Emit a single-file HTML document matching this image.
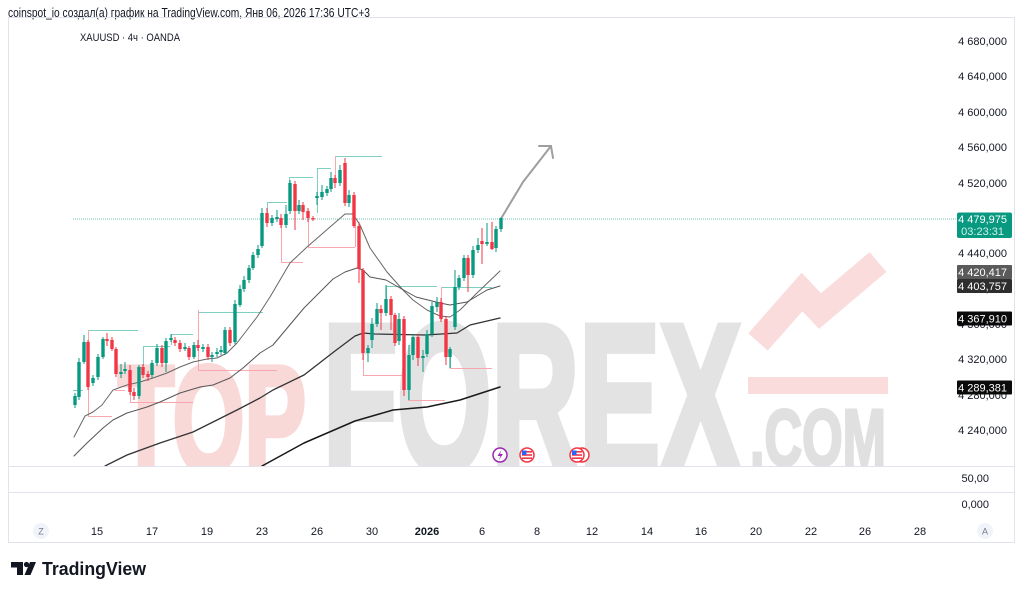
<!DOCTYPE html>
<html>
<head>
<meta charset="utf-8">
<style>
  html,body{margin:0;padding:0;background:#fff;}
  svg{display:block;}
  text{font-family:"Liberation Sans","DejaVu Sans",sans-serif;}
</style>
</head>
<body>
<svg width="1024" height="594" viewBox="0 0 1024 594" xmlns="http://www.w3.org/2000/svg">
  <defs>
    <clipPath id="pane"><rect x="9" y="18" width="946" height="448"/></clipPath>
  </defs>
  <rect x="0" y="0" width="1024" height="594" fill="#ffffff"/>

  <!-- header -->
  <text x="8" y="17" font-size="12.5" fill="#131722" textLength="362" lengthAdjust="spacingAndGlyphs">coinspot_io создал(а) график на TradingView.com, Янв 06, 2026 17:36 UTC+3</text>

  <!-- frame -->
  <rect x="8.5" y="17.5" width="1006" height="525" fill="none" stroke="#e0e3eb" stroke-width="1"/>
  <line x1="8" y1="466.5" x2="1015" y2="466.5" stroke="#e0e3eb" stroke-width="1"/>
  <line x1="8" y1="492.5" x2="1015" y2="492.5" stroke="#e0e3eb" stroke-width="1"/>

  <!-- watermark -->
  <g clip-path="url(#pane)">
    <text x="118" y="472" font-size="152" font-weight="bold" fill="#f9d8d8" stroke="#f9d8d8" stroke-width="6" stroke-linejoin="miter" textLength="188" lengthAdjust="spacingAndGlyphs" style='font-family:"Liberation Sans Narrow","Liberation Sans",sans-serif'>TOP</text>
    <text x="323" y="471" font-size="210" font-weight="bold" fill="#e3e3e3" stroke="#e3e3e3" stroke-width="8" stroke-linejoin="miter" textLength="418" lengthAdjust="spacingAndGlyphs" style='font-family:"Liberation Sans Narrow","Liberation Sans",sans-serif'>FOREX</text>
    <text x="750" y="465" font-size="80" font-weight="bold" fill="#e0e0e0" stroke="#e0e0e0" stroke-width="3" textLength="136" lengthAdjust="spacingAndGlyphs" style='font-family:"Liberation Sans Narrow","Liberation Sans",sans-serif'>.COM</text>
    <polyline points="758,342 802,292 820,311 878,262" fill="none" stroke="#fadcdc" stroke-width="26" stroke-linejoin="miter"/>
    <rect x="748" y="377" width="140" height="17" fill="#fadcdc"/>
  </g>

  <!-- title -->
  <text x="80" y="41" font-size="11" fill="#131722" textLength="100" lengthAdjust="spacingAndGlyphs">XAUUSD · 4ч · OANDA</text>

  <!-- current price dotted line -->
  <line x1="73" y1="219" x2="956" y2="219" stroke="#089981" stroke-opacity="0.55" stroke-width="1" stroke-dasharray="1 1"/>

  <!-- pivot lines green -->
  <g stroke="#7fcfc3" stroke-width="1" fill="none">
    <line x1="88" y1="330.5" x2="138" y2="330.5"/>
    <line x1="73" y1="390.5" x2="83" y2="390.5"/>
    <line x1="143" y1="346.5" x2="170" y2="346.5"/>
    <line x1="143.5" y1="346" x2="143.5" y2="366"/>
    <line x1="171" y1="334.5" x2="193" y2="334.5"/>
    <line x1="171.5" y1="334" x2="171.5" y2="345"/>
    <line x1="198" y1="312.5" x2="263" y2="312.5"/>
    <line x1="267" y1="202.5" x2="287" y2="202.5"/>
    <line x1="267.5" y1="202" x2="267.5" y2="213"/>
    <line x1="289" y1="177.5" x2="313" y2="177.5"/>
    <line x1="289.5" y1="177" x2="289.5" y2="184"/>
    <line x1="317" y1="168.5" x2="331" y2="168.5"/>
    <line x1="317.5" y1="168" x2="317.5" y2="213"/>
    <line x1="335" y1="156.5" x2="382" y2="156.5"/>
    <line x1="386" y1="286.5" x2="437" y2="286.5"/>
    <line x1="386.5" y1="286" x2="386.5" y2="300"/>
    <line x1="441" y1="287.5" x2="492" y2="287.5"/>
    <line x1="408.5" y1="390" x2="408.5" y2="400"/>
    <line x1="450.5" y1="349" x2="450.5" y2="368"/>
  </g>
  <!-- pivot lines red -->
  <g stroke="#f7a7ad" stroke-width="1" fill="none">
    <line x1="88.5" y1="330" x2="88.5" y2="416"/>
    <line x1="88" y1="416.5" x2="112" y2="416.5"/>
    <line x1="115" y1="390.5" x2="125" y2="390.5"/>
    <line x1="130.5" y1="390" x2="130.5" y2="402"/>
    <line x1="130" y1="402.5" x2="193" y2="402.5"/>
    <line x1="198.5" y1="310" x2="198.5" y2="370"/>
    <line x1="198" y1="370.5" x2="277" y2="370.5"/>
    <line x1="281.5" y1="218" x2="281.5" y2="262"/>
    <line x1="281" y1="262.5" x2="303" y2="262.5"/>
    <line x1="335.5" y1="156" x2="335.5" y2="183"/>
    <line x1="308.5" y1="212" x2="308.5" y2="247"/>
    <line x1="308" y1="247.5" x2="355" y2="247.5"/>
    <line x1="355.5" y1="225" x2="355.5" y2="247"/>
    <line x1="363.5" y1="353" x2="363.5" y2="375"/>
    <line x1="363" y1="375.5" x2="403" y2="375.5"/>
    <line x1="408" y1="400.5" x2="445" y2="400.5"/>
    <line x1="441.5" y1="287" x2="441.5" y2="320"/>
    <line x1="450" y1="368.5" x2="492" y2="368.5"/>
  </g>

  <!-- moving averages -->
  <g clip-path="url(#pane)" fill="none" stroke-linejoin="round" stroke-linecap="round">
    <polyline stroke="#666" stroke-width="1" points="74,437 85,416 93,412 102,405 113,390 127,385 140,382 153,378 167,373 180,367 193,362 207,359 217,358 227,353 237,343 247,330 257,317 270,297 290,263 307,247 330,227 345,214 353,214 360,225 370,248 387,272 403,290 413,300 427,310 440,316 450,317 460,310 477,293 500,271"/>
    <polyline stroke="#555" stroke-width="1" points="74,456 87,443 103,428 113,420 127,413 147,407 160,402 180,393 200,387 213,385 230,378 243,368 260,353 273,345 304,308 333,279 345,272 357,268 363,270 370,277 386,280 400,288 416,297 440,303 450,305 467,302 487,290 500,286"/>
    <polyline stroke="#333" stroke-width="1.3" points="105,466 127,455 160,443 193,432 217,420 237,410 260,398 273,390 304,375 335,351 355,336 363,333 375,334 426,335 457,333 470,325 500,318"/>
    <polyline stroke="#1a1a1a" stroke-width="1.5" points="262,466 304,443 355,421 393,410 427,407 460,400 500,387"/>
  </g>

  <!-- green candles -->
  <g fill="#089981" stroke="none">
    <g stroke="#089981" stroke-width="1">
      <line x1="75" y1="393" x2="75" y2="408"/><line x1="79" y1="358" x2="79" y2="400"/><line x1="84" y1="335" x2="84" y2="364"/>
      <line x1="93" y1="375" x2="93" y2="386"/><line x1="98" y1="354" x2="98" y2="380"/><line x1="103" y1="337" x2="103" y2="359"/>
      <line x1="121" y1="364" x2="121" y2="378"/><line x1="125" y1="362" x2="125" y2="374"/><line x1="139" y1="365" x2="139" y2="399"/>
      <line x1="152" y1="360" x2="152" y2="378"/><line x1="157" y1="344" x2="157" y2="366"/><line x1="166" y1="338" x2="166" y2="372"/>
      <line x1="171" y1="334" x2="171" y2="342"/><line x1="185" y1="343" x2="185" y2="351"/><line x1="194" y1="342" x2="194" y2="359"/>
      <line x1="203" y1="344" x2="203" y2="352"/><line x1="212" y1="352" x2="212" y2="362"/><line x1="217" y1="348" x2="217" y2="357"/>
      <line x1="221" y1="346" x2="221" y2="355"/><line x1="225" y1="327" x2="225" y2="355"/><line x1="235" y1="300" x2="235" y2="344"/>
      <line x1="240" y1="285" x2="240" y2="307"/><line x1="244" y1="276" x2="244" y2="292"/><line x1="249" y1="265" x2="249" y2="283"/>
      <line x1="253" y1="252" x2="253" y2="270"/><line x1="258" y1="245" x2="258" y2="258"/><line x1="262" y1="208" x2="262" y2="248"/>
      <line x1="272" y1="215" x2="272" y2="226"/><line x1="277" y1="210" x2="277" y2="222"/><line x1="286" y1="205" x2="286" y2="228"/>
      <line x1="290" y1="180" x2="290" y2="214"/><line x1="299" y1="200" x2="299" y2="214"/><line x1="317" y1="192" x2="317" y2="205"/>
      <line x1="322" y1="185" x2="322" y2="200"/><line x1="327" y1="186" x2="327" y2="196"/><line x1="331" y1="172" x2="331" y2="192"/>
      <line x1="340" y1="165" x2="340" y2="186"/><line x1="349" y1="190" x2="349" y2="207"/><line x1="368" y1="345" x2="368" y2="362"/>
      <line x1="372" y1="318" x2="372" y2="348"/><line x1="377" y1="303" x2="377" y2="327"/><line x1="386" y1="285" x2="386" y2="316"/>
      <line x1="399" y1="313" x2="399" y2="345"/><line x1="409" y1="345" x2="409" y2="400"/><line x1="413" y1="334" x2="413" y2="360"/>
      <line x1="423" y1="350" x2="423" y2="372"/><line x1="427" y1="330" x2="427" y2="357"/><line x1="432" y1="302" x2="432" y2="337"/>
      <line x1="437" y1="297" x2="437" y2="312"/><line x1="450" y1="347" x2="450" y2="368"/><line x1="455" y1="270" x2="455" y2="330"/>
      <line x1="459" y1="275" x2="459" y2="290"/><line x1="464" y1="255" x2="464" y2="281"/><line x1="473" y1="246" x2="473" y2="278"/>
      <line x1="478" y1="238" x2="478" y2="253"/><line x1="487" y1="223" x2="487" y2="246"/><line x1="496" y1="226" x2="496" y2="252"/>
      <line x1="501" y1="217" x2="501" y2="232"/>
    </g>
    <rect x="73.3" y="396" width="3.4" height="9"/><rect x="77.3" y="362" width="3.4" height="35"/><rect x="82.3" y="342" width="3.4" height="20"/>
    <rect x="91.3" y="378" width="3.4" height="5"/><rect x="96.3" y="357" width="3.4" height="20"/><rect x="101.3" y="339" width="3.4" height="18"/>
    <rect x="119.3" y="372" width="3.4" height="2"/><rect x="123.3" y="369" width="3.4" height="2"/><rect x="137.3" y="367" width="3.4" height="29"/>
    <rect x="150.3" y="363" width="3.4" height="12"/><rect x="155.3" y="348" width="3.4" height="15"/><rect x="164.3" y="341" width="3.4" height="22"/>
    <rect x="169.3" y="338" width="3.4" height="2"/><rect x="183.3" y="347" width="3.4" height="2"/><rect x="192.3" y="345" width="3.4" height="12"/>
    <rect x="201.3" y="347" width="3.4" height="2"/><rect x="210.3" y="355" width="3.4" height="2"/><rect x="215.3" y="352" width="3.4" height="2"/>
    <rect x="219.3" y="350" width="3.4" height="2"/><rect x="223.3" y="330" width="3.4" height="23"/><rect x="233.3" y="304" width="3.4" height="38"/>
    <rect x="238.3" y="289" width="3.4" height="16"/><rect x="242.3" y="280" width="3.4" height="9"/><rect x="247.3" y="268" width="3.4" height="12"/>
    <rect x="251.3" y="255" width="3.4" height="13"/><rect x="256.3" y="249" width="3.4" height="6"/><rect x="260.3" y="213" width="3.4" height="33"/>
    <rect x="270.3" y="218" width="3.4" height="5"/><rect x="275.3" y="217" width="3.4" height="2"/><rect x="284.3" y="214" width="3.4" height="11"/>
    <rect x="288.3" y="183" width="3.4" height="28"/><rect x="297.3" y="205" width="3.4" height="6"/><rect x="315.3" y="196" width="3.4" height="2"/>
    <rect x="320.3" y="192" width="3.4" height="5"/><rect x="325.3" y="189" width="3.4" height="4"/><rect x="329.3" y="178" width="3.4" height="11"/>
    <rect x="338.3" y="170" width="3.4" height="13"/><rect x="347.3" y="195" width="3.4" height="8"/><rect x="366.3" y="348" width="3.4" height="5"/>
    <rect x="370.3" y="324" width="3.4" height="16"/><rect x="375.3" y="309" width="3.4" height="15"/><rect x="384.3" y="299" width="3.4" height="14"/>
    <rect x="397.3" y="319" width="3.4" height="22"/><rect x="407.3" y="355" width="3.4" height="35"/><rect x="411.3" y="337" width="3.4" height="18"/>
    <rect x="421.3" y="356" width="3.4" height="2"/><rect x="425.3" y="334" width="3.4" height="20"/><rect x="430.3" y="306" width="3.4" height="28"/>
    <rect x="435.3" y="302" width="3.4" height="5"/><rect x="448.3" y="349" width="3.4" height="8"/><rect x="453.3" y="287" width="3.4" height="40"/>
    <rect x="457.3" y="278" width="3.4" height="9"/><rect x="462.3" y="258" width="3.4" height="20"/><rect x="471.3" y="250" width="3.4" height="25"/>
    <rect x="476.3" y="245" width="3.4" height="5"/><rect x="485.3" y="242" width="3.4" height="2"/><rect x="494.3" y="229" width="3.4" height="19"/>
    <rect x="499.3" y="218" width="3.4" height="11"/>
  </g>

  <!-- red candles -->
  <g fill="#f23645" stroke="none">
    <g stroke="#f23645" stroke-width="1">
      <line x1="88" y1="340" x2="88" y2="390"/><line x1="107" y1="333" x2="107" y2="346"/><line x1="112" y1="337" x2="112" y2="351"/>
      <line x1="116" y1="347" x2="116" y2="377"/><line x1="130" y1="365" x2="130" y2="395"/><line x1="134" y1="388" x2="134" y2="400"/>
      <line x1="143" y1="364" x2="143" y2="378"/><line x1="148" y1="371" x2="148" y2="381"/><line x1="162" y1="345" x2="162" y2="367"/>
      <line x1="175" y1="337" x2="175" y2="346"/><line x1="180" y1="340" x2="180" y2="352"/><line x1="189" y1="346" x2="189" y2="360"/>
      <line x1="198" y1="340" x2="198" y2="351"/><line x1="208" y1="344" x2="208" y2="360"/><line x1="230" y1="327" x2="230" y2="346"/>
      <line x1="267" y1="208" x2="267" y2="227"/><line x1="281" y1="214" x2="281" y2="228"/><line x1="295" y1="181" x2="295" y2="230"/>
      <line x1="303" y1="202" x2="303" y2="220"/><line x1="308" y1="208" x2="308" y2="222"/><line x1="313" y1="216" x2="313" y2="221"/>
      <line x1="335" y1="175" x2="335" y2="188"/><line x1="345" y1="158" x2="345" y2="206"/><line x1="354" y1="192" x2="354" y2="228"/>
      <line x1="359" y1="222" x2="359" y2="283"/><line x1="363" y1="268" x2="363" y2="360"/><line x1="381" y1="305" x2="381" y2="330"/>
      <line x1="391" y1="296" x2="391" y2="330"/><line x1="395" y1="313" x2="395" y2="346"/><line x1="404" y1="316" x2="404" y2="396"/>
      <line x1="418" y1="334" x2="418" y2="366"/><line x1="441" y1="298" x2="441" y2="322"/><line x1="446" y1="316" x2="446" y2="365"/>
      <line x1="468" y1="255" x2="468" y2="292"/><line x1="482" y1="228" x2="482" y2="264"/><line x1="492" y1="222" x2="492" y2="250"/>
    </g>
    <rect x="86.3" y="342" width="3.4" height="45"/><rect x="105.3" y="339" width="3.4" height="2"/><rect x="110.3" y="340" width="3.4" height="9"/>
    <rect x="114.3" y="349" width="3.4" height="25"/><rect x="128.3" y="370" width="3.4" height="22"/><rect x="132.3" y="392" width="3.4" height="4"/>
    <rect x="141.3" y="367" width="3.4" height="8"/><rect x="146.3" y="374" width="3.4" height="3"/><rect x="160.3" y="348" width="3.4" height="15"/>
    <rect x="173.3" y="340" width="3.4" height="3"/><rect x="178.3" y="343" width="3.4" height="6"/><rect x="187.3" y="348" width="3.4" height="9"/>
    <rect x="196.3" y="345" width="3.4" height="3"/><rect x="206.3" y="347" width="3.4" height="10"/><rect x="228.3" y="330" width="3.4" height="13"/>
    <rect x="265.3" y="213" width="3.4" height="10"/><rect x="279.3" y="218" width="3.4" height="7"/><rect x="293.3" y="184" width="3.4" height="27"/>
    <rect x="301.3" y="205" width="3.4" height="7"/><rect x="306.3" y="211" width="3.4" height="7"/><rect x="311.3" y="218" width="3.4" height="1.5"/>
    <rect x="333.3" y="178" width="3.4" height="5"/><rect x="343.3" y="163" width="3.4" height="40"/><rect x="352.3" y="195" width="3.4" height="31"/>
    <rect x="357.3" y="226" width="3.4" height="43"/><rect x="361.3" y="270" width="3.4" height="83"/><rect x="379.3" y="309" width="3.4" height="4"/>
    <rect x="389.3" y="299" width="3.4" height="16"/><rect x="393.3" y="315" width="3.4" height="28"/><rect x="402.3" y="319" width="3.4" height="71"/>
    <rect x="416.3" y="337" width="3.4" height="21"/><rect x="439.3" y="302" width="3.4" height="17"/><rect x="444.3" y="319" width="3.4" height="38"/>
    <rect x="466.3" y="258" width="3.4" height="17"/><rect x="480.3" y="241" width="3.4" height="3"/><rect x="490.3" y="242" width="3.4" height="7"/>
  </g>

  <!-- projection arrow -->
  <g stroke="#9e9e9e" stroke-width="2" fill="none" stroke-linecap="round" stroke-linejoin="round">
    <polyline points="502,217 523,182 551,146"/>
    <polyline points="539,146 551,146 553,158"/>
  </g>

  <!-- event icons -->
  <g>
    <circle cx="500" cy="455" r="7" fill="#fff" stroke="#9c27b0" stroke-width="1.5"/>
    <path d="M501.5,450 L497.5,456 L500.5,456 L498.5,460.5 L503,454 L500,454 Z" fill="#9c27b0"/>
    <circle cx="582" cy="455" r="7" fill="#fff" stroke="#f23645" stroke-width="1.5"/>
    <g>
      <circle cx="527" cy="455" r="7" fill="#fff" stroke="#f23645" stroke-width="1.5"/>
      <rect x="522" y="451" width="10" height="1.6" fill="#f23645"/>
      <rect x="522" y="454.2" width="10" height="1.6" fill="#f23645"/>
      <rect x="522" y="457.4" width="10" height="1.6" fill="#f23645"/>
      <rect x="522" y="450.5" width="4.5" height="4.5" fill="#2962ff"/>
    </g>
    <g>
      <circle cx="577" cy="455" r="7" fill="#fff" stroke="#f23645" stroke-width="1.5"/>
      <rect x="572" y="451" width="10" height="1.6" fill="#f23645"/>
      <rect x="572" y="454.2" width="10" height="1.6" fill="#f23645"/>
      <rect x="572" y="457.4" width="10" height="1.6" fill="#f23645"/>
      <rect x="572" y="450.5" width="4.5" height="4.5" fill="#2962ff"/>
    </g>
  </g>

  <!-- price axis labels -->
  <g font-size="11" fill="#131722" text-anchor="end">
    <text x="1007" y="45">4 680,000</text>
    <text x="1007" y="80">4 640,000</text>
    <text x="1007" y="116">4 600,000</text>
    <text x="1007" y="151">4 560,000</text>
    <text x="1007" y="187">4 520,000</text>
    <text x="1007" y="257">4 440,000</text>
    <text x="1007" y="292">4 400,000</text>
    <text x="1007" y="328">4 360,000</text>
    <text x="1007" y="363">4 320,000</text>
    <text x="1007" y="399">4 280,000</text>
    <text x="1007" y="434">4 240,000</text>
    <text x="989" y="482">50,00</text>
    <text x="989" y="508">0,000</text>
  </g>

  <!-- price labels (boxes) -->
  <rect x="957" y="212.5" width="55" height="25.5" rx="2" fill="#089981"/>
  <text x="1007" y="223" font-size="11" fill="#ffffff" text-anchor="end">4 479,975</text>
  <text x="1004" y="235" font-size="11" fill="#d2efe9" text-anchor="end">03:23:31</text>

  <rect x="957" y="265" width="55" height="14" rx="1" fill="#5a5a5a"/>
  <text x="1007" y="276" font-size="11" fill="#ffffff" text-anchor="end">4 420,417</text>
  <rect x="957" y="279" width="55" height="14" rx="1" fill="#2e2e2e"/>
  <text x="1007" y="290" font-size="11" fill="#ffffff" text-anchor="end">4 403,757</text>
  <rect x="957" y="311.5" width="55" height="14" rx="1" fill="#0a0a0a"/>
  <text x="1007" y="322.5" font-size="11" fill="#ffffff" text-anchor="end">4 367,910</text>
  <rect x="957" y="380.5" width="55" height="14" rx="1" fill="#0a0a0a"/>
  <text x="1007" y="391.5" font-size="11" fill="#ffffff" text-anchor="end">4 289,381</text>

  <!-- time axis -->
  <circle cx="41" cy="531" r="8" fill="#f0f3fa"/>
  <text x="41" y="534.5" font-size="9" fill="#787b86" text-anchor="middle">Z</text>
  <circle cx="985" cy="531" r="8" fill="#f0f3fa"/>
  <text x="985" y="534.5" font-size="9" fill="#787b86" text-anchor="middle">A</text>
  <g font-size="11" fill="#131722" text-anchor="middle">
    <text x="97" y="535">15</text>
    <text x="152" y="535">17</text>
    <text x="207" y="535">19</text>
    <text x="262" y="535">23</text>
    <text x="317" y="535">26</text>
    <text x="372" y="535">30</text>
    <text x="427" y="535" font-weight="bold">2026</text>
    <text x="482" y="535">6</text>
    <text x="537" y="535">8</text>
    <text x="592" y="535">12</text>
    <text x="647" y="535">14</text>
    <text x="701" y="535">16</text>
    <text x="756" y="535">20</text>
    <text x="811" y="535">22</text>
    <text x="865" y="535">26</text>
    <text x="920" y="535">28</text>
  </g>

  <!-- TradingView logo -->
  <g fill="#131722">
    <path d="M11,562 H23 V575 H17 V567.5 H11 Z"/>
    <circle cx="26.5" cy="564.5" r="2.6"/>
    <path d="M30,562 H36 L30.5,575 H24.5 Z"/>
  </g>
  <text x="42" y="575" font-size="18" font-weight="bold" fill="#131722" textLength="104" lengthAdjust="spacingAndGlyphs">TradingView</text>
</svg>
</body>
</html>
